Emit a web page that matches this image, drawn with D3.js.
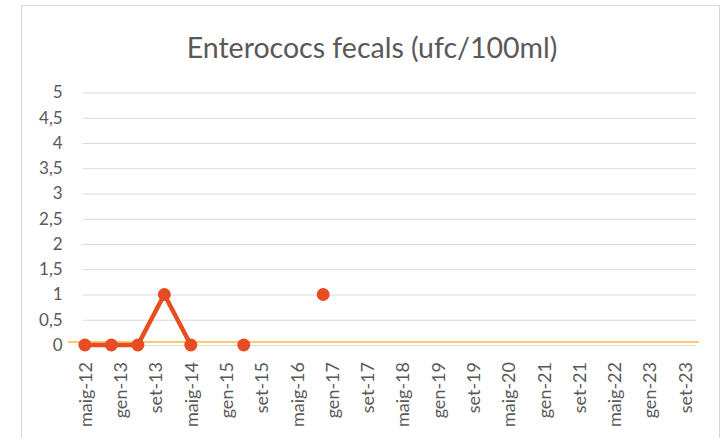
<!DOCTYPE html>
<html>
<head>
<meta charset="utf-8">
<script src="https://cdn.jsdelivr.net/npm/d3@7"></script>
<style>
  html, body { margin: 0; padding: 0; background: #fff; }
  svg { display: block; }
  text { font-family: Lato, "Liberation Sans", sans-serif; fill: #595959; }
</style>
</head>
<body>
<svg id="chart" width="722" height="438"></svg>
<script>
// Sampling campaigns (year-month) and measured enterococci counts; null = no sample
const sampleDates = ["2012-05", "2012-11", "2013-05", "2013-11", "2014-05", "2014-11",
                     "2015-05", "2015-11", "2016-05", "2016-11"];
const enterococValues = [0, 0, 0, 1, 0, null, 0, null, null, 1];

// Reference level drawn as a thin horizontal line
const referenceLevel = 0.06;

// Axis span (monthly slots) and labelled months
const axisStart = "2012-05";
const axisEnd = "2023-11";
const tickDates = ["2012-05", "2013-01", "2013-09", "2014-05", "2015-01", "2015-09",
                   "2016-05", "2017-01", "2017-09", "2018-05", "2019-01", "2019-09",
                   "2020-05", "2021-01", "2021-09", "2022-05", "2023-01", "2023-09"];
const tickLabels = ["maig-12", "gen-13", "set-13", "maig-14", "gen-15", "set-15",
                    "maig-16", "gen-17", "set-17", "maig-18", "gen-19", "set-19",
                    "maig-20", "gen-21", "set-21", "maig-22", "gen-23", "set-23"];
const yTicks = [0, 0.5, 1, 1.5, 2, 2.5, 3, 3.5, 4, 4.5, 5];

const title = "Enterococs fecals (ufc/100ml)";

// month offset relative to the first slot of the axis
function monthIndex(s) {
  const [y, m] = s.split("-").map(Number);
  const [y0, m0] = axisStart.split("-").map(Number);
  return (y - y0) * 12 + (m - m0);
}

const svg = d3.select("#chart");

// chart frame
svg.append("rect")
  .attr("x", 21.5).attr("y", 5.5)
  .attr("width", 698).attr("height", 440)
  .attr("fill", "#fff").attr("stroke", "#d9d9d9").attr("stroke-width", 1);

const plot = { left: 82.7, right: 696, top: 92.5, bottom: 345 };

const x = d3.scaleLinear()
  .domain([-0.5, monthIndex(axisEnd) + 0.5])
  .range([plot.left, plot.right]);

const y = d3.scaleLinear()
  .domain([0, 5])
  .range([plot.bottom, plot.top]);

// title
svg.append("text")
  .attr("x", 372).attr("y", 58)
  .attr("text-anchor", "middle")
  .style("font-size", "28.5px")
  .text(title);

// horizontal gridlines + y labels
const yAxis = d3.axisLeft(y)
  .tickValues(yTicks)
  .tickSize(-(plot.right - plot.left))
  .tickPadding(20)
  .tickFormat(d => String(d).replace(".", ","));

const gy = svg.append("g")
  .attr("transform", `translate(${plot.left},0)`)
  .call(yAxis);
gy.select(".domain").remove();
gy.selectAll(".tick line").attr("stroke", "#d9d9d9").attr("stroke-width", 1);
gy.selectAll(".tick text").style("font-size", "17px").attr("fill", "#595959");

// x axis labels (rotated)
const xAxis = d3.axisBottom(x)
  .tickValues(tickDates.map(monthIndex))
  .tickSize(0)
  .tickFormat((d, i) => tickLabels[i]);

const gx = svg.append("g")
  .attr("transform", `translate(0,${plot.bottom})`)
  .call(xAxis);
gx.select(".domain").remove();
gx.selectAll(".tick text")
  .style("font-size", "18px")
  .attr("fill", "#595959")
  .attr("text-anchor", "end")
  .attr("transform", "rotate(-90)")
  .attr("x", -17)
  .attr("y", 0)
  .attr("dy", "0.35em");

// reference level line
svg.append("line")
  .attr("x1", x(-0.5) - 15).attr("x2", x(monthIndex(axisEnd) + 0.5) + 3)
  .attr("y1", y(referenceLevel)).attr("y2", y(referenceLevel))
  .attr("stroke", "#ffc96b").attr("stroke-width", 2);

// measurement series
const series = sampleDates.map((d, i) => ({ m: monthIndex(d), v: enterococValues[i] }));

const line = d3.line()
  .defined(d => d.v !== null)
  .x(d => x(d.m))
  .y(d => y(d.v));

svg.append("path")
  .datum(series)
  .attr("fill", "none")
  .attr("stroke", "#e84c22")
  .attr("stroke-width", 4.5)
  .attr("stroke-linejoin", "round")
  .attr("d", line);

svg.selectAll("circle.pt")
  .data(series.filter(d => d.v !== null))
  .join("circle")
  .attr("class", "pt")
  .attr("cx", d => x(d.m))
  .attr("cy", d => y(d.v))
  .attr("r", 6.5)
  .attr("fill", "#e84c22");
</script>
</body>
</html>
